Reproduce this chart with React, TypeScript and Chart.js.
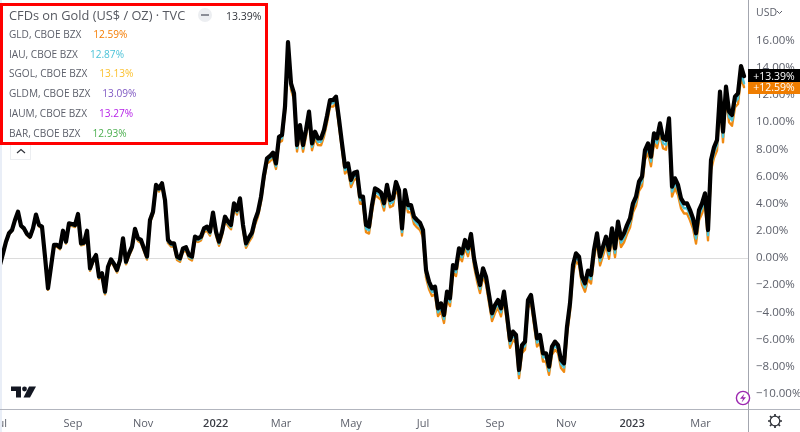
import React, { useEffect, useRef } from "react";
import { Chart, registerables } from "chart.js";

Chart.register(...registerables);

const goldCfd = [
  -0.5, 0.34, 1.2, 1.82, 2.06, 2.8, 3.41, 2.38, 2.18, 1.77, 1.57, 2.18, 3.2, 2.43, 2.31, 0.1, -2.23, -0.64, 0.96, 0.96,
  0.79, 2.01, 1.2, 2.55, 2.5, 2.43, 3.24, 1.08, 1.13, 2.01, -0.76, -0.15, 0.22, -1.37, -1.13, -2.48, -0.64, -0.1, -0.44, -0.88,
  -0.15, 1.45, -0.27, 0.34, 0.83, 2.14, 1.45, 1.33, 0.71, 0.1, 2.8, 3.41, 5.38, 5.13, 5.5, 4.27, 1.33, 1.08, 1.08, 0.1,
  -0.02, 0.71, 0.79, 0.22, 0.1, 1.57, 1.45, 1.57, 2.18, 2.31, 1.94, 3.34, 1.94, 1.2, 1.94, 3.04, 2.68, 2.43, 4.03, 3.53,
  4.39, 2.43, 1.08, 1.52, 1.87, 2.8, 3.41, 4.5, 6.11, 7.34, 7.51, 7.76, 6.97, 8.93, 9.06, 11.14, 15.9, 12.86, 12.13, 8.32,
  9.79, 8.32, 9.43, 10.78, 8.44, 9.3, 8.81, 8.81, 9.43, 10.46, 11.63, 11.63, 11.88, 10.21, 8.44, 6.73, 6.97, 5.74, 6.28, 6.36,
  4.52, 4.52, 2.43, 2.31, 3.9, 5.13, 5.0, 4.81, 4.03, 5.38, 4.27, 4.39, 5.6, 5.0, 2.18, 5.0, 3.9, 3.9, 3.04, 2.8,
  2.6, 2.06, -0.88, -1.74, -2.23, -2.11, -3.71, -3.34, -4.2, -2.48, -2.97, -0.52, -0.76, 0.71, 0.34, 1.33, 0.71, 1.77, -0.02, -1.13,
  -1.99, -0.76, -1.37, -2.72, -4.07, -3.46, -3.09, -3.71, -2.48, -4.2, -6.04, -5.42, -5.67, -8.25, -6.41, -6.16, -3.09, -2.72, -4.32, -5.92,
  -5.67, -7.02, -7.02, -8.0, -6.53, -6.16, -6.41, -7.51, -7.76, -5.06, -3.34, -0.52, 0.34, 0.1, -1.37, -1.87, -0.93, -1.25, 0.6, 1.82,
  0.1, 0.83, 1.57, 0.59, 2.18, 0.71, 2.68, 1.45, 1.82, 2.43, 2.92, 4.03, 4.52, 5.62, 5.99, 7.95, 8.44, 7.46, 9.18, 8.81,
  9.92, 8.81, 8.69, 10.28, 5.25, 5.87, 5.38, 4.39, 4.03, 4.03, 3.53, 2.92, 1.82, 3.53, 4.03, 4.76, 2.06, 7.22, 8.15, 8.69,
  12.25, 9.3, 12.62, 10.78, 10.53, 11.88, 12.13, 14.14, 13.39,
];

const gldEtf = [
  -0.55, 0.3, 1.15, 1.75, 2.0, 2.72, 3.33, 2.3, 2.08, 1.68, 1.47, 2.08, 3.08, 2.32, 2.18, 0.0, -2.35, -0.76, 0.84, 0.82,
  0.65, 1.9, 1.06, 2.4, 2.36, 2.28, 3.1, 0.93, 0.98, 1.86, -0.95, -0.33, 0.05, -1.55, -1.3, -2.68, -0.82, -0.28, -0.62, -1.07,
  -0.34, 1.26, -0.47, 0.14, 0.62, 1.93, 1.25, 1.1, 0.5, -0.12, 2.58, 3.2, 5.17, 4.9, 5.28, 4.03, 1.1, 0.85, 0.85, -0.14,
  -0.28, 0.46, 0.52, -0.05, -0.18, 1.3, 1.18, 1.3, 1.9, 2.02, 1.65, 3.05, 1.65, 0.9, 1.65, 2.73, 2.38, 2.12, 3.72, 3.2,
  4.08, 2.1, 0.75, 1.18, 1.53, 2.45, 3.05, 4.13, 5.75, 6.96, 7.13, 7.37, 6.56, 8.52, 8.63, 10.72, 15.48, 12.4, 11.66, 7.84,
  9.32, 7.83, 8.95, 10.3, 7.94, 8.8, 8.31, 8.3, 8.94, 9.96, 11.15, 11.15, 11.4, 9.7, 7.94, 6.22, 6.47, 5.22, 5.76, 5.85,
  4.0, 4.0, 1.9, 1.8, 3.38, 4.62, 4.47, 4.28, 3.5, 4.85, 3.74, 3.85, 5.08, 4.47, 1.65, 4.47, 3.36, 3.38, 2.5, 2.25,
  2.06, 1.52, -1.44, -2.3, -2.8, -2.68, -4.28, -3.9, -4.78, -3.05, -3.54, -1.1, -1.33, 0.14, -0.24, 0.75, 0.13, 1.2, -0.6, -1.7,
  -2.58, -1.34, -1.95, -3.3, -4.65, -4.05, -3.68, -4.3, -3.05, -4.8, -6.62, -6.02, -6.26, -8.85, -7.0, -6.75, -3.68, -3.3, -4.9, -6.52,
  -6.26, -7.62, -7.62, -8.6, -7.12, -6.76, -7.0, -8.1, -8.38, -5.66, -3.95, -1.12, -0.27, -0.5, -1.98, -2.48, -1.55, -1.88, -0.02, 1.2,
  -0.55, 0.18, 0.92, -0.05, 1.53, 0.06, 2.02, 0.8, 1.16, 1.76, 2.25, 3.36, 3.85, 4.94, 5.3, 7.26, 7.74, 6.76, 8.48, 8.1,
  9.2, 8.08, 7.98, 9.56, 4.52, 5.14, 4.64, 3.66, 3.28, 3.28, 2.78, 2.17, 1.06, 2.78, 3.27, 4.0, 1.3, 6.46, 7.38, 7.92,
  11.48, 8.52, 11.84, 10.0, 9.74, 11.1, 11.34, 13.34, 12.59,
];

const iauEtf = [
  -0.52, 0.32, 1.17, 1.78, 2.03, 2.76, 3.37, 2.34, 2.13, 1.72, 1.52, 2.13, 3.14, 2.38, 2.25, 0.05, -2.29, -0.7, 0.9, 0.89,
  0.72, 1.95, 1.13, 2.47, 2.43, 2.35, 3.17, 1.0, 1.05, 1.93, -0.85, -0.24, 0.13, -1.46, -1.21, -2.58, -0.73, -0.19, -0.53, -0.97,
  -0.24, 1.35, -0.37, 0.24, 0.72, 2.03, 1.35, 1.21, 0.6, -0.01, 2.69, 3.3, 5.27, 5.01, 5.39, 4.15, 1.21, 0.96, 0.96, -0.02,
  -0.15, 0.58, 0.65, 0.08, -0.04, 1.43, 1.31, 1.43, 2.04, 2.16, 1.79, 3.19, 1.79, 1.05, 1.79, 2.88, 2.53, 2.27, 3.87, 3.36,
  4.23, 2.26, 0.91, 1.35, 1.7, 2.62, 3.23, 4.31, 5.93, 7.15, 7.32, 7.56, 6.76, 8.72, 8.84, 10.93, 15.69, 12.63, 11.89, 8.08,
  9.55, 8.07, 9.19, 10.54, 8.19, 9.05, 8.56, 8.55, 9.18, 10.21, 11.39, 11.39, 11.64, 9.95, 8.19, 6.47, 6.72, 5.48, 6.02, 6.1,
  4.26, 4.26, 2.16, 2.05, 3.64, 4.87, 4.73, 4.54, 3.76, 5.11, 4.0, 4.12, 5.34, 4.73, 1.91, 4.73, 3.63, 3.64, 2.77, 2.52,
  2.33, 1.79, -1.16, -2.02, -2.51, -2.39, -4.0, -3.62, -4.49, -2.76, -3.25, -0.81, -1.05, 0.42, 0.05, 1.04, 0.42, 1.48, -0.31, -1.41,
  -2.28, -1.05, -1.66, -3.01, -4.36, -3.75, -3.38, -4.0, -2.76, -4.5, -6.33, -5.72, -5.96, -8.55, -6.7, -6.45, -3.38, -3.01, -4.61, -6.22,
  -5.96, -7.32, -7.32, -8.3, -6.82, -6.46, -6.7, -7.8, -8.07, -5.36, -3.64, -0.82, 0.04, -0.2, -1.67, -2.17, -1.24, -1.56, 0.29, 1.51,
  -0.22, 0.51, 1.25, 0.27, 1.86, 0.39, 2.35, 1.13, 1.49, 2.1, 2.59, 3.7, 4.19, 5.28, 5.65, 7.61, 8.09, 7.11, 8.83, 8.46,
  9.56, 8.45, 8.34, 9.92, 4.89, 5.51, 5.01, 4.03, 3.66, 3.66, 3.16, 2.55, 1.44, 3.16, 3.65, 4.38, 1.68, 6.84, 7.76, 8.31,
  11.86, 8.91, 12.23, 10.39, 10.14, 11.49, 11.73, 13.74, 12.87,
];

const axisLabels = ["Jul", "Sep", "Nov", "2022", "Mar", "May", "Jul", "Sep", "Nov", "2023", "Mar"];
const axisLabelSamples = [0.3, 24.3, 47.7, 71.9, 93.7, 117, 141, 165, 188.7, 210.7, 233.5];
const yearLabels = ["2022", "2023"];
const priceTicks = [-10, -8, -6, -4, -2, 0, 2, 4, 6, 8, 10, 12, 14, 16];

const titleText = "CFDs on Gold (US$ / OZ) · TVC";
const titleChange = "13.39%";
const legendNames = ["GLD, CBOE BZX", "IAU, CBOE BZX", "SGOL, CBOE BZX", "GLDM, CBOE BZX", "IAUM, CBOE BZX", "BAR, CBOE BZX"];
const legendChanges = ["12.59%", "12.87%", "13.13%", "13.09%", "13.27%", "12.93%"];
const legendColors = ["#f57c00", "#4dc3d8", "#fbc02d", "#7e57c2", "#b620e8", "#4caf50"];

const FONT = '"Open Sans", sans-serif';

export default function App() {
  const ref = useRef<HTMLCanvasElement | null>(null);

  useEffect(() => {
    document.body.style.margin = "0";
    document.body.style.background = "#fff";
    const series = (values: number[]) => values.map((y, x) => ({ x, y }));
    const chart = new Chart(ref.current as HTMLCanvasElement, {
      type: "line",
      data: {
        datasets: [
          { label: "CFDs on Gold", data: series(goldCfd), borderColor: "#000", borderWidth: 4.2, order: 1 },
          { label: "IAU", data: series(iauEtf), borderColor: "#4dc3d8", borderWidth: 2.4, order: 2 },
          { label: "GLD", data: series(gldEtf), borderColor: "#ef8a12", borderWidth: 2.4, order: 3 },
        ],
      },
      options: {
        responsive: false,
        animation: false,
        parsing: false,
        normalized: true,
        layout: { padding: 0 },
        elements: { point: { radius: 0 }, line: { tension: 0, borderJoinStyle: "round", borderCapStyle: "round" } },
        plugins: { legend: { display: false }, tooltip: { enabled: false }, title: { display: false } },
        scales: {
          x: {
            type: "linear",
            min: 0,
            max: 249.33,
            grid: { display: false },
            border: { display: false },
            afterBuildTicks: (s: any) => {
              s.ticks = axisLabelSamples.map((value) => ({ value }));
            },
            afterFit: (s: any) => {
              s.height = 23;
              s.paddingLeft = 0;
              s.paddingRight = 0;
            },
            ticks: {
              autoSkip: false,
              maxRotation: 0,
              padding: 0,
              font: (c: any) => ({ family: FONT, size: 11, weight: yearLabels.includes(axisLabels[c.index]) ? "600" : "400" }),
              color: (c: any) => (yearLabels.includes(axisLabels[c.index]) ? "#3a3d45" : "#5d606b"),
              callback: (_v: any, i: number) => axisLabels[i],
            },
          },
          y: {
            position: "right",
            min: -11.12,
            max: 19,
            grid: {
              drawTicks: false,
              lineWidth: 1,
              color: (c: any) => (c.tick && c.tick.value === 0 ? "#dcdcdc" : "transparent"),
            },
            border: { display: false },
            afterBuildTicks: (s: any) => {
              s.ticks = priceTicks.map((value) => ({ value }));
            },
            afterFit: (s: any) => {
              s.width = 52;
              s.paddingTop = 0;
              s.paddingBottom = 0;
            },
            ticks: {
              padding: 8,
              align: "center",
              crossAlign: "near",
              font: { family: FONT, size: 11.5 },
              color: "#5d606b",
              callback: (v: any) => `${Number(v) < 0 ? "−" : ""}${Math.abs(Number(v)).toFixed(2)}%`,
            },
          },
        },
      } as any,
    });
    return () => chart.destroy();
  }, []);

  const abs = (s: React.CSSProperties): React.CSSProperties => ({ position: "absolute", whiteSpace: "nowrap", ...s });

  return (
    <div style={{ position: "relative", width: 800, height: 432, overflow: "hidden", fontFamily: FONT, background: "#fff" }}>
      <canvas ref={ref} width={800} height={432} style={{ display: "block", position: "absolute", left: 0, top: 0 }} />
      <div style={abs({ left: 0, top: 0, width: 2, height: 432, background: "#e9eef7" })} />
      <div style={abs({ left: 0, top: 409, width: 800, height: 1, background: "#b2b5be" })} />
      <div style={abs({ left: 748, top: 0, width: 1, height: 432, background: "#a3a6af" })} />

      <div
        style={abs({ left: 0, top: 3, width: 262, height: 136, border: "3px solid #ff0000", background: "#fff" })}
      />
      <div style={abs({ left: 9, top: 6, fontSize: 12.8, lineHeight: "18px", color: "#555860" })}>{titleText}</div>
      <div style={abs({ left: 198, top: 8, width: 14, height: 14, borderRadius: 7, background: "#eceef1" })}>
        <div style={{ position: "absolute", left: 3, top: 6, width: 8, height: 2, background: "#8a8d96" }} />
      </div>
      <div style={abs({ left: 226, top: 8, fontSize: 10.5, lineHeight: "16px", color: "#30333a" })}>{titleChange}</div>
      {legendNames.map((name, i) => (
        <div key={name} style={abs({ left: 9, top: 26 + i * 19.7, fontSize: 10.1, lineHeight: "16px", color: "#5d606b" })}>
          {name}
          <span style={{ marginLeft: 12, color: legendColors[i] }}>{legendChanges[i]}</span>
        </div>
      ))}
      <div
        style={abs({
          left: 10,
          top: 145,
          width: 21,
          height: 15,
          border: "1px solid #eceef1",
          borderTop: "none",
          boxSizing: "border-box",
        })}
      >
        <svg width="19" height="14" style={{ display: "block" }}>
          <path d="M6 8 L10 4.5 L14 8" fill="none" stroke="#30333a" strokeWidth="1.2" />
        </svg>
      </div>

      <div style={abs({ left: 756, top: 4, fontSize: 10.5, lineHeight: "16px", color: "#5d606b" })}>USD</div>
      <svg width="7" height="5" style={{ position: "absolute", left: 776, top: 10 }}>
        <path d="M1 1 L3.5 3.5 L6 1" fill="none" stroke="#5d606b" strokeWidth="1" />
      </svg>

      <div
        style={abs({ left: 748, top: 82, width: 52, height: 12, background: "#ef7d00", color: "#fff", fontSize: 10.5, lineHeight: "11px", textAlign: "center" })}
      >
        +12.59%
      </div>
      <div
        style={abs({ left: 748, top: 69, width: 52, height: 13, background: "#000", color: "#fff", fontSize: 10.5, lineHeight: "14px", textAlign: "center" })}
      >
        +13.39%
      </div>

      <svg width="26" height="14" style={{ position: "absolute", left: 11, top: 385 }}>
        <path d="M0 1.5 H10 V12.5 H5 V6 H0 Z" fill="#131722" />
        <circle cx="13.5" cy="4" r="2.4" fill="#131722" />
        <path d="M18 1.5 H25 L19 12.5 H12.5 Z" fill="#131722" />
      </svg>

      <svg width="18" height="18" style={{ position: "absolute", left: 734, top: 389 }}>
        <circle cx="9" cy="9" r="6.6" fill="#fff" stroke="#9c27b0" strokeWidth="1.4" />
        <path d="M10.5 4.5 L6 9.8 H9 L7.6 13.5 L12 8.2 H9 Z" fill="#9c27b0" />
      </svg>

      <svg width="16" height="16" viewBox="0 0 16 16" style={{ position: "absolute", left: 767, top: 413 }}>
        <circle cx="8" cy="8" r="4.8" fill="none" stroke="#30333a" strokeWidth="1.3" />
        <path d="M8 1 V3.4 M8 12.6 V15 M1 8 H3.4 M12.6 8 H15 M3 3 L4.8 4.8 M11.2 11.2 L13 13 M13 3 L11.2 4.8 M4.8 11.2 L3 13" stroke="#30333a" strokeWidth="1.7" />
      </svg>
    </div>
  );
}
